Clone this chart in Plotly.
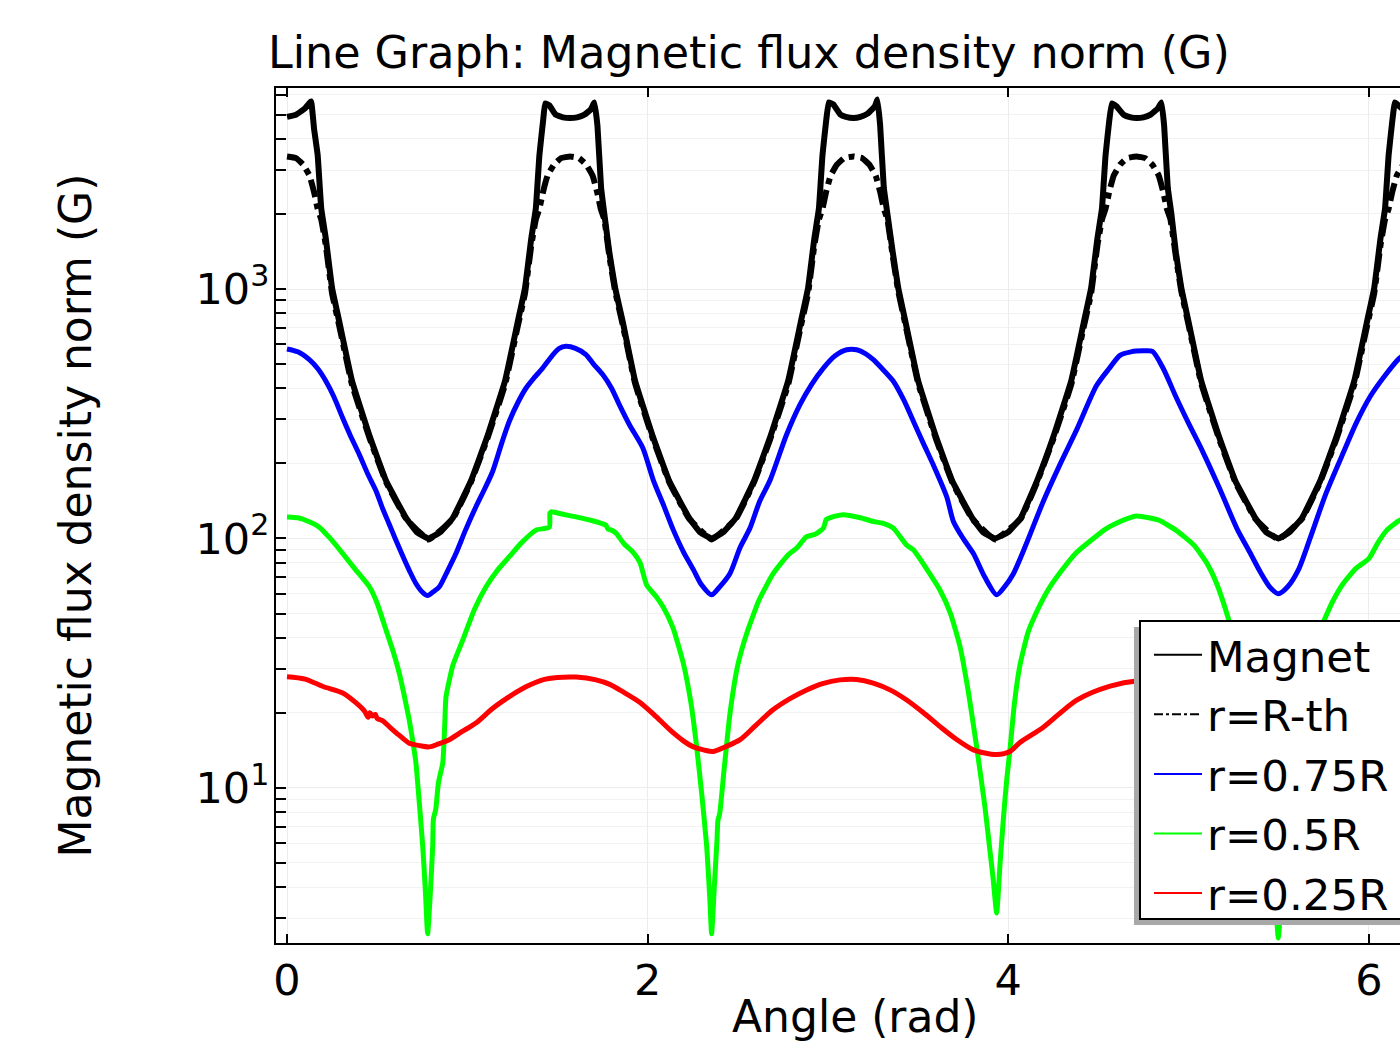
import plotly.graph_objects as go

# ---------------- data ----------------
magnet_x = [0.00, 0.05, 0.10, 0.133, 0.15, 0.17, 0.19, 0.215, 0.25, 0.29, 0.36, 0.46, 0.55, 0.66, 0.72, 0.785,
            0.85, 0.92, 1.02, 1.11, 1.21, 1.28, 1.32, 1.355, 1.38, 1.40, 1.42, 1.432, 1.455, 1.49, 1.53, 1.57,
            1.61, 1.65, 1.685, 1.705, 1.722, 1.742, 1.76, 1.788, 1.82, 1.862, 1.93, 2.03, 2.12, 2.23, 2.29, 2.356,
            2.42, 2.49, 2.59, 2.68, 2.78, 2.85, 2.89, 2.925, 2.95, 2.97, 2.99, 3.005, 3.03, 3.07, 3.10, 3.142,
            3.18, 3.22, 3.26, 3.275, 3.29, 3.31, 3.33, 3.36, 3.39, 3.43, 3.50, 3.60, 3.69, 3.80, 3.86, 3.927,
            4.00, 4.07, 4.16, 4.25, 4.35, 4.42, 4.46, 4.495, 4.52, 4.54, 4.56, 4.575, 4.60, 4.64, 4.68, 4.712,
            4.75, 4.79, 4.83, 4.85, 4.865, 4.885, 4.905, 4.93, 4.96, 5.00, 5.07, 5.17, 5.26, 5.37, 5.43, 5.498,
            5.56, 5.63, 5.73, 5.82, 5.92, 5.99, 6.03, 6.065, 6.09, 6.11, 6.13, 6.145, 6.17, 6.23, 6.283]
magnet_y = [4900, 5000, 5300, 5650, 4400, 3450, 2100, 1600, 1010, 740, 430, 255, 170, 121, 106, 100,
            106, 121, 170, 255, 430, 740, 1010, 1600, 2100, 3450, 4700, 5550, 5450, 5000, 4880, 4850,
            4880, 5000, 5250, 5600, 4500, 2550, 2000, 1400, 1010, 740, 430, 255, 170, 121, 106, 100,
            106, 121, 170, 255, 430, 740, 1010, 1600, 2100, 3450, 4700, 5600, 5500, 5000, 4900, 4850,
            4900, 5050, 5400, 5750, 4500, 2550, 2000, 1400, 1010, 740, 430, 255, 170, 121, 106, 100,
            106, 121, 170, 255, 430, 740, 1010, 1600, 2100, 3450, 4700, 5550, 5400, 5000, 4880, 4850,
            4880, 5000, 5300, 5600, 4500, 2550, 2000, 1400, 1010, 740, 430, 255, 170, 121, 106, 100,
            106, 121, 170, 255, 430, 740, 1010, 1600, 2100, 3450, 4700, 5600, 5400, 5000, 4900]

rth_x = [0.00, 0.05, 0.09, 0.125, 0.15, 0.17, 0.19, 0.215, 0.25, 0.29, 0.36, 0.46, 0.55, 0.66, 0.785,
         0.92, 1.02, 1.11, 1.21, 1.28, 1.32, 1.355, 1.38, 1.40, 1.42, 1.445, 1.48, 1.52, 1.57,
         1.62, 1.66, 1.695, 1.72, 1.74, 1.76, 1.788, 1.82, 1.862, 1.93, 2.03, 2.12, 2.23, 2.356,
         2.49, 2.59, 2.68, 2.78, 2.85, 2.89, 2.925, 2.95, 2.97, 2.99, 3.015, 3.05, 3.09, 3.142,
         3.19, 3.23, 3.265, 3.29, 3.31, 3.33, 3.36, 3.39, 3.43, 3.50, 3.60, 3.69, 3.80, 3.927,
         4.07, 4.16, 4.25, 4.35, 4.42, 4.46, 4.495, 4.52, 4.54, 4.56, 4.585, 4.62, 4.66, 4.712,
         4.76, 4.80, 4.835, 4.86, 4.88, 4.90, 4.93, 4.96, 5.00, 5.07, 5.17, 5.26, 5.37, 5.498,
         5.63, 5.73, 5.82, 5.92, 5.99, 6.03, 6.065, 6.09, 6.11, 6.13, 6.155, 6.19, 6.23, 6.283]
rth_y = [3400, 3350, 3150, 2850, 2450, 2100, 1900, 1500, 960, 710, 415, 250, 168, 120, 99,
         120, 168, 250, 415, 710, 960, 1500, 1900, 2100, 2450, 2850, 3150, 3350, 3400,
         3350, 3150, 2850, 2450, 2100, 1900, 1350, 980, 720, 420, 250, 168, 120, 99,
         120, 168, 250, 415, 710, 960, 1500, 1900, 2100, 2450, 2850, 3150, 3350, 3400,
         3350, 3150, 2850, 2450, 2100, 1900, 1350, 980, 720, 420, 250, 168, 120, 99,
         120, 168, 250, 415, 710, 960, 1500, 1900, 2100, 2450, 2850, 3150, 3350, 3400,
         3350, 3150, 2850, 2450, 2100, 1900, 1350, 980, 720, 420, 250, 168, 120, 99,
         120, 168, 250, 415, 710, 960, 1500, 1900, 2100, 2450, 2850, 3150, 3350, 3400]

r075_x = [0.00, 0.06, 0.124, 0.17, 0.216, 0.26, 0.309, 0.35, 0.401, 0.45, 0.494, 0.53, 0.567, 0.60, 0.642,
          0.68, 0.715, 0.75, 0.78, 0.81, 0.845, 0.89, 0.937, 0.99, 1.048, 1.10, 1.141, 1.19, 1.233, 1.28,
          1.326, 1.37, 1.418, 1.47, 1.51, 1.547, 1.60, 1.658, 1.70, 1.751, 1.80, 1.843, 1.90, 1.973, 2.032,
          2.09, 2.143, 2.20, 2.254, 2.30, 2.355, 2.40, 2.457, 2.513, 2.568, 2.62, 2.679, 2.77, 2.845, 2.91,
          2.975, 3.04, 3.104, 3.16, 3.21, 3.252, 3.30, 3.363, 3.42, 3.474, 3.53, 3.585, 3.659, 3.696, 3.75,
          3.807, 3.87, 3.936, 3.98, 4.028, 4.10, 4.195, 4.29, 4.38, 4.49, 4.56, 4.62, 4.68, 4.75, 4.80,
          4.86, 4.93, 5.00, 5.08, 5.17, 5.27, 5.34, 5.40, 5.45, 5.498, 5.55, 5.61, 5.674, 5.76, 5.86,
          5.93, 6.007, 6.09, 6.17, 6.23, 6.283]
r075_y = [575, 560, 521, 480, 427, 370, 304, 260, 217, 180, 155, 132, 114, 100, 85,
          74, 66, 61, 59, 61, 64, 74, 87, 108, 134, 160, 186, 240, 295, 350,
          401, 440, 482, 540, 578, 589, 578, 546, 500, 454, 400, 344, 285, 231, 171,
          135, 108, 88, 75, 65, 59.4, 64, 72.4, 92, 110, 140, 171, 260, 344, 415,
          482, 540, 571, 571, 550, 521, 480, 427, 360, 295, 240, 197, 147, 117, 100,
          87, 70, 59.4, 64, 72, 95, 141, 200, 273, 410, 480, 542, 560, 565, 562,
          480, 370, 290, 222, 160, 109, 88, 73, 64, 60, 64, 75, 100, 150, 222,
          290, 370, 450, 528, 565, 575]

r05_x = [0.00, 0.06, 0.12, 0.179, 0.24, 0.309, 0.38, 0.457, 0.50, 0.549, 0.59, 0.623, 0.65, 0.678, 0.70,
         0.715, 0.735, 0.753, 0.768, 0.780, 0.795, 0.808, 0.812, 0.825, 0.84, 0.864, 0.875, 0.882, 0.92,
         0.974, 1.04, 1.104, 1.17, 1.233, 1.30, 1.381, 1.455, 1.458, 1.465, 1.53, 1.603, 1.69, 1.769,
         1.78, 1.80, 1.825, 1.87, 1.92, 1.958, 1.995, 2.047, 2.087, 2.14, 2.198, 2.24, 2.272, 2.30,
         2.328, 2.345, 2.355, 2.37, 2.385, 2.39, 2.40, 2.425, 2.457, 2.50, 2.55, 2.62, 2.697, 2.78,
         2.827, 2.882, 2.93, 2.975, 2.99, 3.01, 3.067, 3.085, 3.18, 3.252, 3.307, 3.363, 3.437, 3.474,
         3.55, 3.622, 3.68, 3.733, 3.78, 3.825, 3.87, 3.90, 3.917, 3.936, 3.955, 3.975, 3.992, 4.01,
         4.035, 4.065, 4.11, 4.158, 4.22, 4.287, 4.38, 4.472, 4.54, 4.60, 4.66, 4.71, 4.78, 4.84,
         4.93, 5.03, 5.10, 5.156, 5.22, 5.28, 5.33, 5.38, 5.42, 5.46, 5.48, 5.498, 5.515, 5.535,
         5.56, 5.60, 5.65, 5.70, 5.747, 5.80, 5.858, 5.93, 6.00, 6.05, 6.10, 6.17, 6.23, 6.283]
r05_y = [122, 121, 117, 111, 100, 87, 75, 64, 55, 43, 35, 28.8, 23.5, 18.7, 15,
         12.6, 8.5, 5.8, 3.8, 2.6, 3.8, 5.8, 7.5, 8.2, 10.5, 12.6, 18, 23.2, 31,
         39, 52, 64, 75, 84.5, 96, 108, 111, 126, 128, 125, 122, 118, 113,
         109, 108, 105, 95, 88, 80, 65, 58.5, 53, 44, 31.6, 22, 14.6, 9.5,
         5.8, 3.6, 2.6, 4.0, 6.2, 7.4, 7.9, 12, 19.9, 31, 41.7, 57, 72.4, 86,
         91.6, 101.6, 104, 110, 119, 121, 124, 124.5, 121, 117, 115, 110, 94, 90,
         75, 62, 50, 36.8, 24, 14.6, 8.5, 5.5, 4.28, 3.15, 5.0, 7.8, 10.8, 14.3,
         22, 31, 42, 50.8, 62, 72.8, 88, 100, 109, 115, 120, 123, 121, 118,
         108, 94, 80, 66, 48, 33, 22, 14, 9, 5.5, 3.8, 2.5, 3.8, 6,
         9.5, 17, 28, 38, 46, 56, 66, 76, 83, 96, 108, 118, 121, 122]

r025_x = [0.00, 0.10, 0.20, 0.309, 0.38, 0.43, 0.45, 0.46, 0.475, 0.49, 0.50, 0.53, 0.567, 0.62, 0.678,
          0.73, 0.789, 0.84, 0.90, 0.97, 1.048, 1.14, 1.233, 1.32, 1.418, 1.50, 1.603, 1.714, 1.79, 1.862,
          1.958, 2.047, 2.143, 2.20, 2.254, 2.31, 2.365, 2.44, 2.513, 2.60, 2.697, 2.79, 2.882, 2.97, 3.067,
          3.16, 3.252, 3.35, 3.437, 3.53, 3.622, 3.71, 3.807, 3.87, 3.936, 4.01, 4.065, 4.195, 4.38, 4.565,
          4.72, 4.85, 4.98, 5.10, 5.22, 5.34, 5.43, 5.498, 5.60, 5.70, 5.82, 5.94, 6.05, 6.17, 6.283]
r025_y = [27.9, 27.3, 25.5, 24, 22, 20.3, 19.2, 20.0, 19.4, 19.7, 19.0, 18.6, 17.6, 16.3, 15.1,
          14.8, 14.6, 15.0, 15.6, 16.8, 18.2, 20.8, 23.2, 25.3, 27.1, 27.7, 27.8, 27.1, 26.0, 24.3,
          22.0, 19.3, 16.6, 15.4, 14.6, 14.2, 14.0, 14.7, 15.6, 17.8, 20.6, 22.8, 24.7, 26.2, 27.1,
          27.2, 26.3, 24.6, 22.5, 20.0, 17.6, 15.7, 14.2, 13.8, 13.6, 14.0, 15.2, 17.5, 22.5, 25.6,
          26.9, 26.8, 25.0, 22.0, 19.0, 16.2, 14.8, 14.3, 15.0, 16.5, 19.5, 22.5, 25.0, 27.0, 27.9]

series_names = ["Magnet", "r=R-th", "r=0.75R", "r=0.5R", "r=0.25R"]
series_colors = ["#000000", "#000000", "#0000ff", "#00ff00", "#ff0000"]
series_dash = ["solid", "dashdot", "solid", "solid", "solid"]
x_tick_vals = [0, 2, 4, 6]
y_tick_vals = [10, 100, 1000]
y_tick_text = ["10<sup>1</sup>", "10<sup>2</sup>", "10<sup>3</sup>"]

title_text = "Line Graph: Magnetic flux density norm (G)"
x_title = "Angle (rad)"
y_title = "Magnetic flux density norm (G)"

# ---------------- figure ----------------
FONT = "DejaVu Sans"
W, H = 1400, 1043
L, R, T, B = 276, 0, 88, 100
PW, PH = W - L - R, H - T - B


def px_x(p):
    return (p - L) / PW


def px_y(p):
    return (H - B - p) / PH


fig = go.Figure()
xs = [magnet_x, rth_x, r075_x, r05_x, r025_x]
ys = [magnet_y, rth_y, r075_y, r05_y, r025_y]
widths = [6, 6, 5, 5, 5]
smooth = [0.3, 0.3, 0.7, 0.5, 0.8]
for i in range(5):
    fig.add_trace(go.Scatter(x=xs[i], y=ys[i], name=series_names[i], mode="lines", showlegend=False,
                             legendgroup=series_names[i],
                             line=dict(color=series_colors[i], width=widths[i], dash=series_dash[i],
                                       shape="spline", smoothing=smooth[i])))
# legend entries with thin sample lines (as in the reference)
for i in range(5):
    fig.add_trace(go.Scatter(x=[None], y=[None], name=series_names[i], mode="lines",
                             legendgroup=series_names[i],
                             line=dict(color=series_colors[i], width=2, dash=series_dash[i])))

minor_vals = [m * 10 ** e for e in range(0, 4) for m in range(2, 10)]

grid_c = "#ececec"
fig.update_xaxes(range=[-0.061, 6.173], tickmode="array", tickvals=x_tick_vals,
                 ticks="inside", ticklen=9, tickwidth=1.5, tickcolor="black",
                 showline=True, linecolor="black", linewidth=2, mirror="ticks",
                 showgrid=True, gridcolor=grid_c, gridwidth=1, zeroline=False,
                 tickfont=dict(family=FONT, size=43, color="black"), ticklabelstandoff=-2)
fig.update_yaxes(type="log", range=[0.378, 3.806], tickmode="array", tickvals=y_tick_vals,
                 ticktext=y_tick_text, ticks="inside", ticklen=10, tickwidth=1.5, tickcolor="black",
                 showline=True, linecolor="black", linewidth=2, mirror=False,
                 showgrid=True, gridcolor=grid_c, gridwidth=1, zeroline=False,
                 minor=dict(tickmode="array", tickvals=minor_vals, ticks="inside", ticklen=10,
                            tickwidth=1.5, tickcolor="black", showgrid=True, gridcolor="#f2f2f2"),
                 tickfont=dict(family=FONT, size=43, color="black"), ticklabelstandoff=-4)

# legend box (cut by the right edge as in the reference) and its shadow
fig.add_shape(type="rect", xref="paper", yref="paper",
              x0=px_x(1134), x1=px_x(1500), y0=px_y(925), y1=px_y(627),
              fillcolor="#a8a8a8", line=dict(width=0), layer="above")
fig.add_shape(type="rect", xref="paper", yref="paper",
              x0=px_x(1140), x1=px_x(1500), y0=px_y(919), y1=px_y(621),
              fillcolor="white", line=dict(color="black", width=2), layer="above")

fig.add_annotation(text=x_title, xref="paper", yref="paper", x=px_x(855),
                   y=px_y(1016), xanchor="center", yanchor="middle", showarrow=False,
                   font=dict(family=FONT, size=44, color="black"))
fig.add_annotation(text=y_title, xref="paper", yref="paper", x=px_x(75), y=0.5,
                   xanchor="center", yanchor="middle", textangle=-90, showarrow=False,
                   font=dict(family=FONT, size=44, color="black"))

fig.update_layout(
    width=W, height=H,
    margin=dict(l=L, r=R, t=T, b=B, autoexpand=False),
    paper_bgcolor="white", plot_bgcolor="white",
    title=dict(text=title_text, x=268 / W, xref="container", xanchor="left",
               y=1 - 52 / H, yref="container", yanchor="middle",
               font=dict(family=FONT, size=44.4, color="black")),
    legend=dict(x=px_x(1149), y=px_y(620), xanchor="left", yanchor="top",
                bgcolor="rgba(0,0,0,0)", borderwidth=0,
                font=dict(family=FONT, size=43.5, color="black"), itemwidth=48, tracegroupgap=0),
    showlegend=True,
)

fig.write_html("out.html", config={"displayModeBar": False},
               post_script="document.body.style.margin='0';document.body.style.overflow='hidden';")
